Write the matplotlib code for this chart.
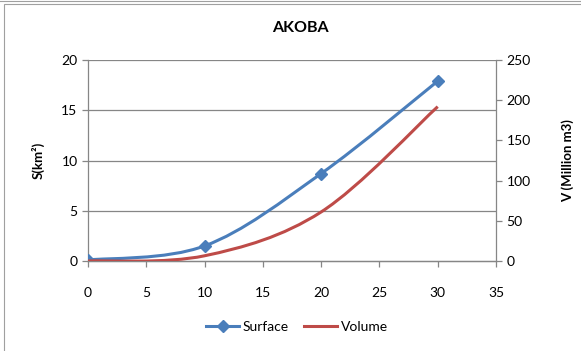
import numpy as np
import matplotlib
matplotlib.use("Agg")
import matplotlib.pyplot as plt
from matplotlib.path import Path
from matplotlib.patches import PathPatch, Rectangle
from matplotlib.lines import Line2D

plt.rcParams['font.family'] = ['Lato', 'DejaVu Sans']

# data
depth = [0, 10, 20, 30]
surface = [0.1, 1.5, 8.7, 17.9]      # S (km2)
volume = [0.0, 6.5, 61.0, 192.0]     # V (Million m3)

title = "AKOBA"
blue = '#4a7ebb'
red = '#be4b48'
grey = '#868686'


def smooth_path(xs, ys):
    """Excel-like smoothed line: cubic Bezier through the points"""
    pts = np.column_stack([xs, ys]).astype(float)
    n = len(pts)
    verts = [pts[0]]
    codes = [Path.MOVETO]
    for i in range(n - 1):
        p0 = pts[i - 1] if i > 0 else pts[i]
        p1 = pts[i]
        p2 = pts[i + 1]
        p3 = pts[i + 2] if i + 2 < n else pts[i + 1]
        c1 = p1 + (p2 - p0) / 6.0
        c2 = p2 - (p3 - p1) / 6.0
        verts += [c1, c2, p2]
        codes += [Path.CURVE4] * 3
    return Path(verts, codes)


fig = plt.figure(figsize=(5.81, 3.51), dpi=100)
ax = fig.add_axes([88 / 581, 90 / 351, 408 / 581, 201 / 351])
ax2 = ax.twinx()

# outer chart border
fig.patches.append(Rectangle((4 / 581, -0.05), 1.1, (351 - 4) / 351 + 0.05,
                             transform=fig.transFigure, fill=False,
                             edgecolor='#a0a0a0', lw=0.8))
fig.lines.append(Line2D([0, 1], [1 - 1 / 351, 1 - 1 / 351], transform=fig.transFigure,
                        color='#a0a0a0', lw=0.8))

ax.set_xlim(0, 35)
ax.set_ylim(0, 20)
ax2.set_ylim(0, 250)
ax.set_xticks(np.arange(0, 36, 5))
ax.set_yticks(np.arange(0, 21, 5))
ax2.set_yticks(np.arange(0, 251, 50))

for y in [5, 10, 15, 20]:
    ax.axhline(y, color=grey, lw=0.9, zorder=0)

for a in (ax, ax2):
    for s in a.spines.values():
        s.set_color(grey)
        s.set_linewidth(0.9)
    a.spines['top'].set_visible(False)
    a.tick_params(colors='black', labelsize=10, length=4, width=0.9, color=grey)
ax.spines['right'].set_visible(False)
ax2.spines['left'].set_visible(False)
ax.tick_params(axis='x', pad=15)

ax.add_patch(PathPatch(smooth_path(depth, surface), fill=False, edgecolor=blue,
                       lw=2.2, zorder=3))
ax.plot(depth, surface, linestyle='none', marker='D', color=blue, ms=6, zorder=4)
ax2.add_patch(PathPatch(smooth_path(depth, volume), fill=False, edgecolor=red,
                        lw=2.2, zorder=3))

ax.set_ylabel('S(km²)', fontsize=9.5, fontweight='bold', labelpad=12)
ax2.set_ylabel('V (Million m3)', fontsize=9.5, fontweight='bold', labelpad=22)
fig.text(300 / 581, 1 - 28 / 351, title, ha='center', va='center',
         fontsize=11.5, fontweight='bold')

handles = [Line2D([], [], color=blue, lw=2.2, marker='D', ms=6),
           Line2D([], [], color=red, lw=2.2)]
fig.legend(handles, ['Surface', 'Volume'], loc='center',
           bbox_to_anchor=(297 / 581, 1 - 327 / 351), ncol=2, frameon=False,
           fontsize=10, handlelength=2.4, columnspacing=1.1, handletextpad=0.25)

fig.savefig('out.png', dpi=100)
